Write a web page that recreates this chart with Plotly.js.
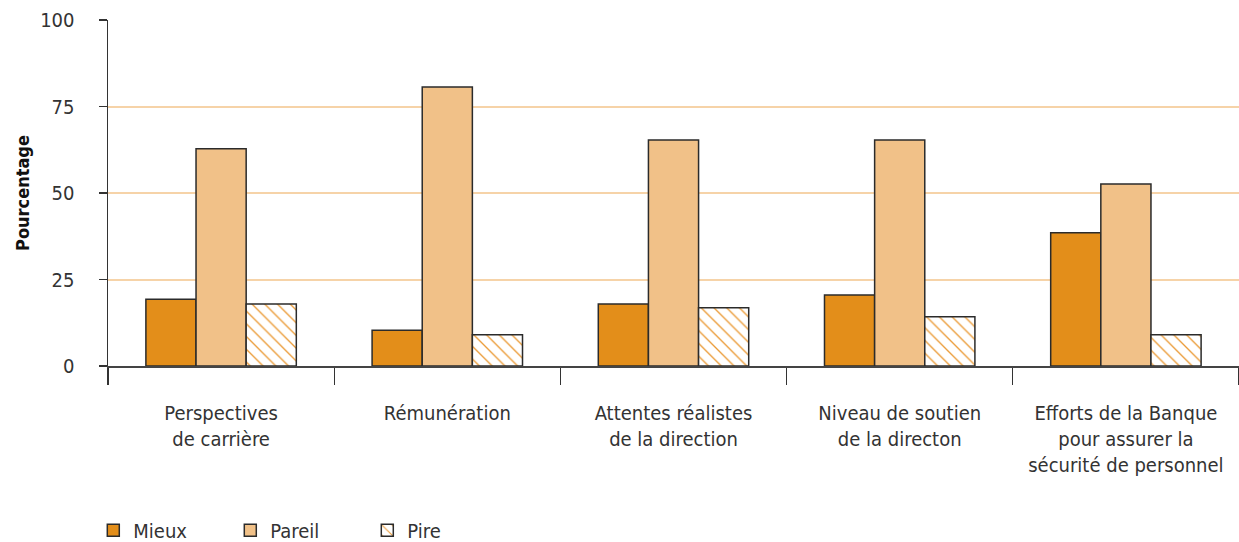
<!DOCTYPE html>
<html>
<head>
<meta charset="utf-8">
<script src="https://cdn.plot.ly/plotly-3.0.1.min.js"></script>
<style>html,body{margin:0;padding:0;background:#fff;}#chart{width:1239px;height:542px;}</style>
</head>
<body>
<div id="chart"></div>
<script>
const categories = ["Perspectives<br>de carrière", "Rémunération", "Attentes réalistes<br>de la direction", "Niveau de soutien<br>de la directon", "Efforts de la Banque<br>pour assurer la<br>sécurité de personnel"];
const mieux = [19.3, 10.3, 17.9, 20.5, 38.5];
const pareil = [62.8, 80.6, 65.3, 65.3, 52.6];
const pire = [17.9, 9.0, 16.8, 14.2, 9.0];
const yTicks = [0, 25, 50, 75, 100];

const FONT = "'Liberation Sans Narrow', 'DejaVu Sans Condensed', 'Arial Narrow', sans-serif";
const line = {color: '#2b2b2b', width: 1.5};

const traces = [
  {type: 'bar', name: 'Mieux', x: categories, y: mieux, marker: {color: '#e38e1a', line: line}},
  {type: 'bar', name: 'Pareil', x: categories, y: pareil, marker: {color: '#f1c188', line: line}},
  {type: 'bar', name: 'Pire', x: categories, y: pire,
   marker: {color: '#ffffff', line: line,
            pattern: {shape: '\\', fgcolor: '#eb9a35', bgcolor: '#ffffff', size: 9, solidity: 0.15, fillmode: 'replace'}}}
];

const layout = {
  width: 1239, height: 542,
  margin: {l: 108, r: 0, t: 20, b: 176, autoexpand: false},
  paper_bgcolor: '#fff', plot_bgcolor: '#fff',
  font: {family: FONT, size: 20, color: '#333'},
  barmode: 'group', bargap: 0.335, bargroupgap: 0,
  showlegend: true,
  legend: {orientation: 'h', x: -0.013, xanchor: 'left', y: -0.475, yanchor: 'middle',
           font: {family: FONT, size: 20, color: '#333'}, entrywidth: 92, itemwidth: 30, traceorder: 'normal'},
  xaxis: {
    type: 'category', tickson: 'boundaries', ticks: 'outside', ticklen: 17, tickwidth: 1.2, tickcolor: '#333',
    showline: true, linecolor: '#444', linewidth: 1.5, showgrid: false, zeroline: false, automargin: false,
    tickfont: {family: FONT, size: 20, color: '#333'}, ticklabelstandoff: 28
  },
  yaxis: {
    range: [0, 100], tickvals: yTicks, ticktext: yTicks.map(String), ticks: 'outside', ticklen: 8, tickcolor: '#333', tickwidth: 1.2,
    showline: true, linecolor: '#333', linewidth: 1.5, showgrid: true, gridcolor: '#f6d3a8', gridwidth: 2,
    zeroline: false, automargin: false, tickfont: {family: FONT, size: 20, color: '#333'}, ticklabelstandoff: 20,
    title: {text: '<b>Pourcentage</b>', font: {family: FONT, size: 18, color: '#111'}, standoff: 6}
  }
};

Plotly.newPlot('chart', traces, layout, {displayModeBar: false, staticPlot: true});
</script>
</body>
</html>
